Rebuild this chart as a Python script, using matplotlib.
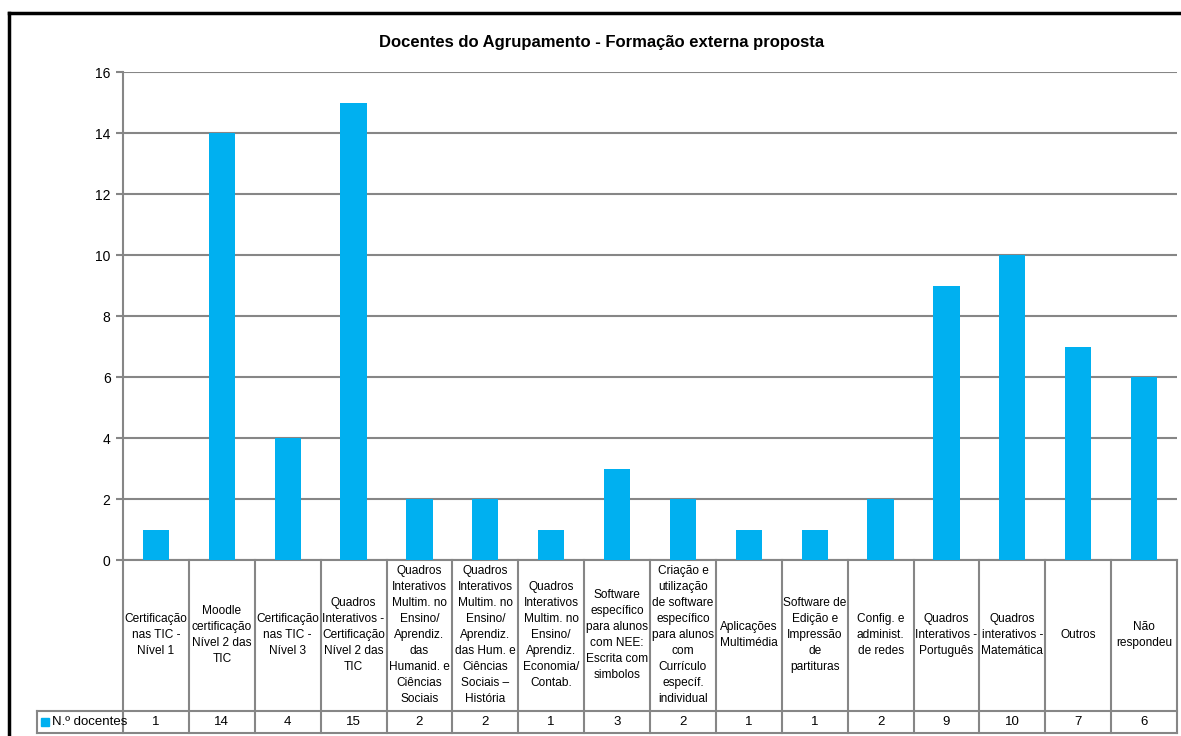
import matplotlib
matplotlib.use('Agg')
import matplotlib.pyplot as plt
import matplotlib.transforms as mtransforms
from matplotlib.patches import Rectangle

plt.rcParams['font.family'] = ['Liberation Sans Narrow', 'Liberation Sans', 'DejaVu Sans']

# dados
categorias = [
    'Certificação\nnas TIC -\nNível 1',
    'Moodle\ncertificação\nNível 2 das\nTIC',
    'Certificação\nnas TIC -\nNível 3',
    'Quadros\nInterativos -\nCertificação\nNível 2 das\nTIC',
    'Quadros\nInterativos\nMultim. no\nEnsino/\nAprendiz.\ndas\nHumanid. e\nCiências\nSociais',
    'Quadros\nInterativos\nMultim. no\nEnsino/\nAprendiz.\ndas Hum. e\nCiências\nSociais –\nHistória',
    'Quadros\nInterativos\nMultim. no\nEnsino/\nAprendiz.\nEconomia/\nContab.',
    'Software\nespecífico\npara alunos\ncom NEE:\nEscrita com\nsimbolos',
    'Criação e\nutilização\nde software\nespecífico\npara alunos\ncom\nCurrículo\nespecíf.\nindividual',
    'Aplicações\nMultimédia',
    'Software de\nEdição e\nImpressão\nde\npartituras',
    'Config. e\nadminist.\nde redes',
    'Quadros\nInterativos -\nPortuguês',
    'Quadros\ninterativos -\nMatemática',
    'Outros',
    'Não\nrespondeu',
]
docentes = [1, 14, 4, 15, 2, 2, 1, 3, 2, 1, 1, 2, 9, 10, 7, 6]
serie = 'N.º docentes'
titulo = 'Docentes do Agrupamento - Formação externa proposta'

azul = '#00B0F0'
cinza = '#868686'

W, H = 1181, 736
fig = plt.figure(figsize=(W / 100, H / 100), dpi=100)

# moldura exterior (cortada à direita e em baixo)
fig.add_artist(plt.Line2D([9 / W, 9 / W], [0, 1 - 13 / H], color='black', lw=2.5))
fig.add_artist(plt.Line2D([9 / W, 1], [1 - 13 / H, 1 - 13 / H], color='black', lw=2.5))

ax = fig.add_axes([123 / W, 1 - 560 / H, (1177 - 123) / W, (560 - 72) / H])
n = len(docentes)
x = list(range(n))
ax.bar(x, docentes, width=0.4, color=azul, zorder=3)
ax.set_xlim(-0.5, n - 0.5)
ax.set_ylim(0, 16)
ax.set_yticks(range(0, 17, 2))
ax.tick_params(axis='y', length=5, color=cinza, width=1.5, labelsize=10, pad=4)
ax.set_xticks([])
ax.grid(axis='y', color=cinza, lw=1.5, zorder=0)
for s in ['top', 'right', 'bottom']:
    ax.spines[s].set_visible(False)
ax.spines['left'].set_color(cinza)
ax.spines['left'].set_linewidth(1.5)

fig.text(0.509, 1 - 43 / H, titulo, ha='center', va='center', fontsize=12, fontweight='bold')

# tabela de dados
tr = mtransforms.blended_transform_factory(ax.transData, ax.transAxes)
ph = 560 - 72
col = (1177 - 123) / n
y_sep = -(711 - 560) / ph
y_fim = -(733 - 560) / ph
y_cat = -(635 - 560) / ph
y_val = (y_sep + y_fim) / 2
x_leg = -0.5 - (123 - 37) / col

kw = dict(transform=tr, color=cinza, lw=1.5, clip_on=False)
ax.plot([-0.5, -0.5], [0, y_fim], **kw)
for i in range(n):
    ax.plot([i + 0.5, i + 0.5], [0, y_fim], **kw)
ax.plot([x_leg, n - 0.5], [y_sep, y_sep], **kw)
ax.plot([x_leg, n - 0.5], [y_fim, y_fim], **kw)
ax.plot([x_leg, x_leg], [y_sep, y_fim], **kw)
ax.plot([-0.5, n - 0.5], [0, 0], **kw)

for i, (c, v) in enumerate(zip(categorias, docentes)):
    ax.text(i, y_cat, c, transform=tr, ha='center', va='center', fontsize=8.6,
            linespacing=1.45, clip_on=False)
    ax.text(i, y_val, str(v), transform=tr, ha='center', va='center', fontsize=9.5,
            clip_on=False)

# chave da legenda
ax.add_patch(Rectangle((x_leg + 4 / col, y_val - 4 / ph), 8 / col, 8 / ph, transform=tr,
                       color=azul, clip_on=False))
ax.text(x_leg + 15 / col, y_val, serie, transform=tr, ha='left', va='center', fontsize=9.5,
        clip_on=False)

fig.savefig('out.png', dpi=100)
